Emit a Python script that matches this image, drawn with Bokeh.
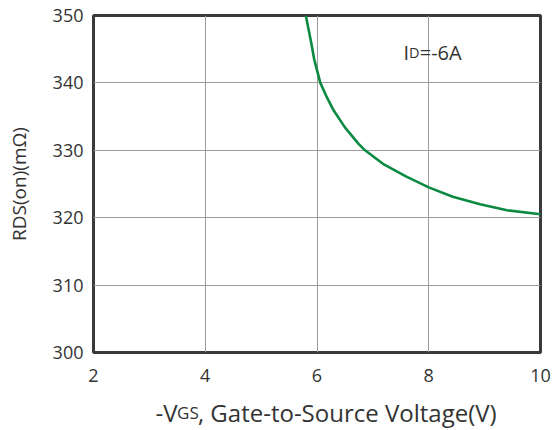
from bokeh.plotting import figure
from bokeh.models import Range1d, FixedTicker, Label
from bokeh.layouts import row, column
from bokeh.embed import file_html
from bokeh.resources import INLINE

# ---- data ----
vgs = [5.80, 5.90, 5.95, 6.06, 6.18, 6.30, 6.50, 6.74, 6.86, 7.18, 7.60, 8.00, 8.43, 8.92, 9.40, 10.0]
rds = [350.0, 345.8, 343.5, 340.0, 337.8, 335.9, 333.4, 331.0, 330.0, 328.0, 326.1, 324.5, 323.1, 322.0, 321.1, 320.5]
x_ticks = [2, 4, 6, 8, 10]
y_ticks = [300, 310, 320, 330, 340, 350]
annotation_parts = ["I", "D", "=-6A"]
xlabel_parts = ["-V", "GS", ", Gate-to-Source Voltage(V)"]
ylabel_text = "RDS(on)(m\u03a9)"

FONT = "Open Sans"
TEXT = "#333333"

TOTAL_W, TOTAL_H = 552, 430
XLAB_H = 35
MAIN_H = TOTAL_H - XLAB_H


def blank_fig(w, h):
    f = figure(width=w, height=h, output_backend="svg", toolbar_location=None, title=None,
               x_range=Range1d(0, w), y_range=Range1d(0, h),
               x_axis_location=None, y_axis_location=None, min_border=0)
    f.grid.visible = False
    f.outline_line_color = None
    f.background_fill_color = "white"
    f.border_fill_color = "white"
    return f


# ---- main chart ----
p = figure(width=TOTAL_W, height=MAIN_H, output_backend="svg", toolbar_location=None,
           x_range=Range1d(2, 10), y_range=Range1d(300, 350),
           min_border_left=93, min_border_right=12, min_border_top=15,
           min_border_bottom=MAIN_H - 352)
p.background_fill_color = "white"
p.border_fill_color = "white"
p.outline_line_color = "#3a3a3a"
p.outline_line_width = 3

for ax in (p.xaxis[0], p.yaxis[0]):
    ax.axis_line_color = None
    ax.major_tick_line_color = None
    ax.minor_tick_line_color = None
    ax.major_label_text_font = FONT
    ax.major_label_text_font_size = "18px"
    ax.major_label_text_color = TEXT
p.xaxis.ticker = FixedTicker(ticks=x_ticks)
p.yaxis.ticker = FixedTicker(ticks=y_ticks)
p.xaxis.major_label_standoff = 10
p.yaxis.major_tick_out = 0
p.yaxis.major_label_standoff = 10

p.yaxis.axis_label = ylabel_text
p.yaxis.axis_label_text_font = FONT
p.yaxis.axis_label_text_font_size = "19px"
p.yaxis.axis_label_text_font_style = "normal"
p.yaxis.axis_label_text_color = TEXT
p.yaxis.axis_label_standoff = 18

p.xgrid.ticker = FixedTicker(ticks=x_ticks)
p.ygrid.ticker = FixedTicker(ticks=y_ticks)
p.grid.grid_line_color = "#9c9c9c"
p.grid.grid_line_width = 1

p.line(vgs, rds, line_color="#0b8a42", line_width=2.6)

# annotation "ID=-6A"
ann_sizes = [20, 14.5, 20]
ann_offsets = [310, 315.6, 326.2]
for t, s, o in zip(annotation_parts, ann_sizes, ann_offsets):
    p.add_layout(Label(x=2, y=350, x_offset=o, y_offset=-37, text=t,
                       text_font=FONT, text_font_size=f"{s}px", text_color=TEXT,
                       text_align="left", text_baseline="alphabetic"))

# ---- x axis label panel (kept out of frame alignment by wrapping the chart in a row) ----
xlab = blank_fig(TOTAL_W, XLAB_H)
xl_sizes = [24, 17, 24]
xl_pos = [155, 176.6, 197.4]          # page x where each piece starts
for t, s, o in zip(xlabel_parts, xl_sizes, xl_pos):
    xlab.add_layout(Label(x=o, y=18, text=t,
                          text_font=FONT, text_font_size=f"{s}px", text_color=TEXT,
                          text_align="left", text_baseline="alphabetic"))

layout = column(row(p, spacing=0), xlab, spacing=0)
open("out.html", "w").write(file_html(layout, INLINE))
